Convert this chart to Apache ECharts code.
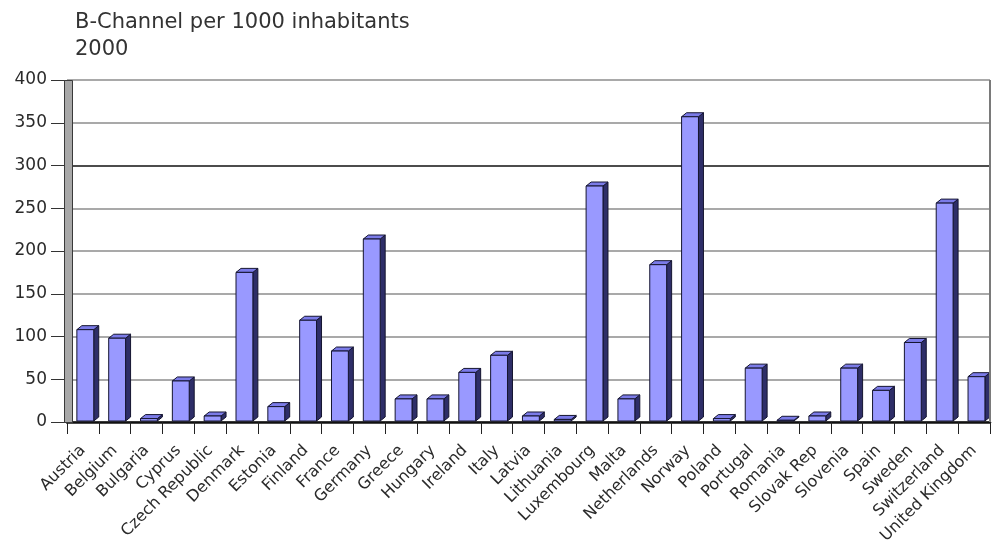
<!DOCTYPE html>
<html>
<head>
<meta charset="utf-8">
<title>B-Channel per 1000 inhabitants</title>
<script src="https://cdn.jsdelivr.net/npm/echarts@6/dist/echarts.min.js"></script>
<style>
  html, body { margin: 0; padding: 0; background: #fff; }
  #chart { width: 995px; height: 554px; }
</style>
</head>
<body>
<div id="chart"></div>
<script>
// data
var countries = ['Austria', 'Belgium', 'Bulgaria', 'Cyprus', 'Czech Republic', 'Denmark', 'Estonia',
  'Finland', 'France', 'Germany', 'Greece', 'Hungary', 'Ireland', 'Italy', 'Latvia', 'Lithuania',
  'Luxembourg', 'Malta', 'Netherlands', 'Norway', 'Poland', 'Portugal', 'Romania', 'Slovak Rep',
  'Slovenia', 'Spain', 'Sweden', 'Switzerland', 'United Kingdom'];
var channels = [108, 98, 4, 48, 7, 175, 18,
  119, 83, 214, 27, 27, 58, 78, 7, 3,
  276, 27, 184, 357, 4, 63, 2, 7,
  63, 37, 93, 256, 53];
var yTicks = [0, 50, 100, 150, 200, 250, 300, 350, 400];

var gridLeft = 67, gridRight = 5, gridTop = 80, gridBottom = 132;
var W = 995, H = 554;
var font = 'DejaVu Sans';

// fake 3d column: front, top face, dark side
var drawBar = function (params, api) {
  var i = api.value(0);
  var base = api.coord([i, 0]);
  var top = api.coord([i, api.value(1)]);
  var band = api.size([1, 0])[0];
  var x = base[0] - band / 2 + band * 0.31;
  var w = band * 0.53;
  var dx = 5, dy = 4;
  var yb = base[1] - 1, yt = top[1];
  return {
    type: 'group',
    children: [
      {type: 'polygon', shape: {points: [[x + w, yt], [x + w + dx, yt - dy], [x + w + dx, yb - dy], [x + w, yb]]},
        style: {fill: '#2e2e68', stroke: '#151530', lineWidth: 1}},
      {type: 'polygon', shape: {points: [[x, yt], [x + w, yt], [x + w + dx, yt - dy], [x + dx, yt - dy]]},
        style: {fill: '#7b7be8', stroke: '#151530', lineWidth: 1}},
      {type: 'rect', shape: {x: x, y: yt, width: w, height: yb - yt},
        style: {fill: '#9999ff', stroke: '#151530', lineWidth: 1}}
    ]
  };
};

var chart = echarts.init(document.getElementById('chart'));
var option = {
  animation: false,
  backgroundColor: '#fff',
  title: {
    text: 'B-Channel per 1000 inhabitants\n2000',
    left: 70,
    top: 4,
    textStyle: {fontFamily: font, fontSize: 21, fontWeight: 'normal', color: '#333', lineHeight: 27}
  },
  grid: {left: gridLeft, right: gridRight, top: gridTop, bottom: gridBottom},
  xAxis: {
    type: 'category',
    data: countries,
    axisLine: {lineStyle: {color: '#111', width: 2.5}},
    axisTick: {show: true, interval: 0, length: 12, lineStyle: {color: '#222'}},
    axisLabel: {interval: 0, rotate: 45, margin: 26, fontFamily: font, fontSize: 16, color: '#2a2a2a'}
  },
  yAxis: {
    type: 'value',
    min: 0,
    max: 400,
    interval: 50,
    axisLine: {show: false},
    axisTick: {show: true, length: 16, lineStyle: {color: '#333'}},
    axisLabel: {margin: 20, fontFamily: font, fontSize: 17, color: '#2a2a2a'},
    splitLine: {
      lineStyle: {
        width: 1.5,
        color: yTicks.map(function (v) { return v === 300 ? '#111' : '#8c8c8c'; })
      }
    }
  },
  series: [{
    name: 'B-Channel',
    type: 'custom',
    renderItem: drawBar,
    encode: {x: 0, y: 1},
    data: countries.map(function (c, i) { return [i, channels[i]]; })
  }],
  graphic: [
    // left wall
    {type: 'rect', z: 100, left: gridLeft - 3, top: gridTop,
      shape: {width: 8, height: H - gridBottom - gridTop},
      style: {fill: '#a8a8a8', stroke: '#3a3a3a', lineWidth: 1}},
    // right wall edge
    {type: 'rect', z: 100, left: W - gridRight - 1, top: gridTop,
      shape: {width: 2, height: H - gridBottom - gridTop},
      style: {fill: '#7a7a7a'}}
  ]
};
chart.setOption(option);
</script>
</body>
</html>
